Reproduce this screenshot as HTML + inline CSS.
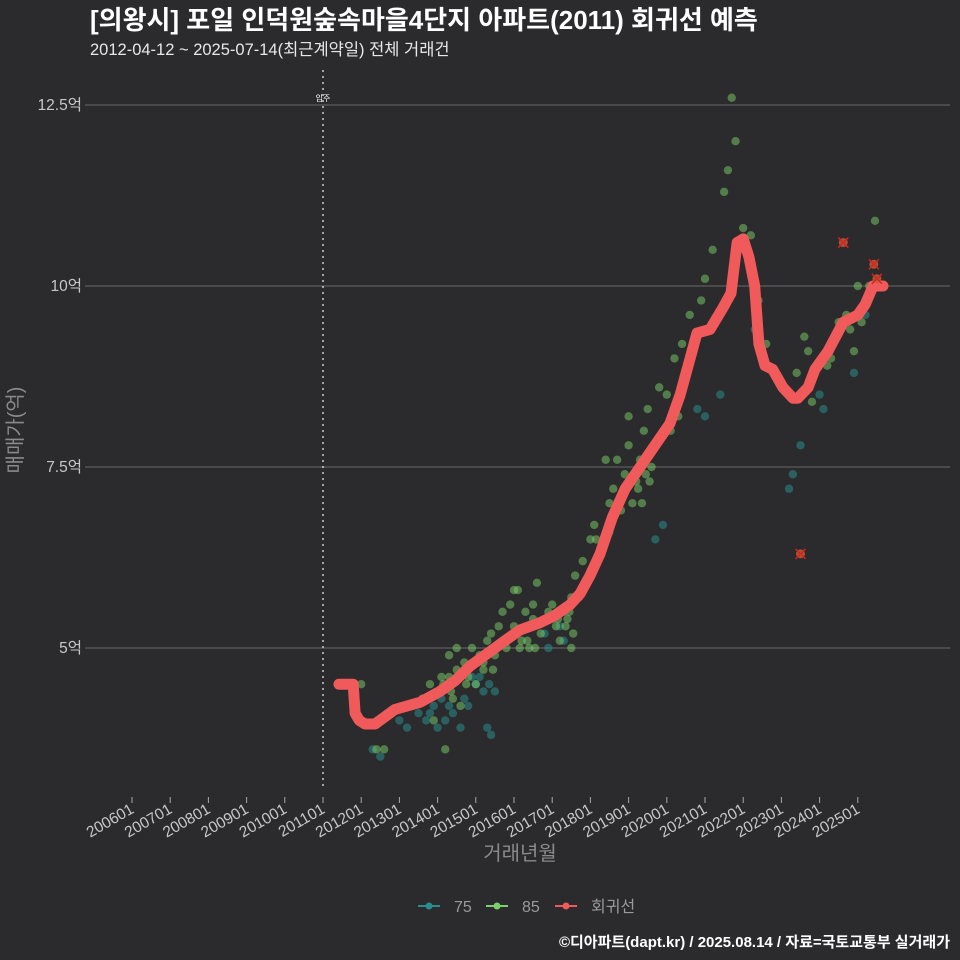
<!DOCTYPE html>
<html><head><meta charset="utf-8">
<style>
body{margin:0;background:#2b2a2c;}
svg{display:block;font-family:"Liberation Sans","Noto Sans CJK KR",sans-serif;}
</style></head>
<body>
<svg id="chart" width="960" height="960" viewBox="0 0 960 960">
<rect width="960" height="960" fill="#2b2a2c"/>
<text x="90" y="29" fill="#ffffff" font-size="26" font-weight="bold">[의왕시] 포일 인덕원숲속마을4단지 아파트(2011) 회귀선 예측</text>
<text x="90" y="55" fill="#e8e8e8" font-size="16.5">2012-04-12 ~ 2025-07-14(최근계약일) 전체 거래건</text>
<g id="grid"></g>
<g id="xaxis"></g>
<g id="marks"></g>
<text x="22" y="430" fill="#8a8a8a" font-size="20" text-anchor="middle" transform="rotate(-90 22 430)">매매가(억)</text>
<text x="520" y="860" fill="#8a8a8a" font-size="20" text-anchor="middle">거래년월</text>
<g>
<g><line x1="418" y1="906" x2="440" y2="906" stroke="#2a8c8c" stroke-width="2"/><circle cx="429" cy="906" r="3.5" fill="#2a8c8c"/><text x="454" y="912" fill="#9a9a9a" font-size="16">75</text></g>
<g><line x1="486" y1="906" x2="508" y2="906" stroke="#7ccf6a" stroke-width="2"/><circle cx="497" cy="906" r="3.5" fill="#7ccf6a"/><text x="522" y="912" fill="#9a9a9a" font-size="16">85</text></g>
<g><line x1="555" y1="906" x2="577" y2="906" stroke="#f05a5a" stroke-width="2"/><circle cx="566" cy="906" r="3.5" fill="#f05a5a"/><text x="591" y="912" fill="#9a9a9a" font-size="16">회귀선</text></g>
</g>
<text x="950" y="947" fill="#ffffff" font-size="15" font-weight="bold" text-anchor="end">©디아파트(dapt.kr) / 2025.08.14 / 자료=국토교통부 실거래가</text>
</svg>
<script>
const yTicks=[5,7.5,10,12.5];
const yTickLabels=["5억","7.5억","10억","12.5억"];
const xTickYears=[2006,2007,2008,2009,2010,2011,2012,2013,2014,2015,2016,2017,2018,2019,2020,2021,2022,2023,2024,2025];
const xTickLabels=["200601","200701","200801","200901","201001","201101","201201","201301","201401","201501","201601","201701","201801","201901","202001","202101","202201","202301","202401","202501"];
const moveInYear=2011;
const regYears=[2011.42,2011.79,2011.84,2011.95,2012.10,2012.36,2012.62,2012.88,2013.54,2014.06,2014.46,2014.85,2015.24,2015.76,2016.16,2016.68,2017.07,2017.47,2017.73,2017.99,2018.25,2018.57,2018.91,2019.30,2019.69,2020.08,2020.35,2020.61,2020.79,2021.13,2021.47,2021.68,2021.84,2022.0,2022.15,2022.30,2022.41,2022.57,2022.77,2023.04,2023.30,2023.43,2023.70,2023.88,2024.22,2024.62,2025.0,2025.2,2025.4,2025.66];
const regValues=[4.5,4.5,4.1,4.0,3.95,3.95,4.05,4.15,4.25,4.4,4.55,4.75,4.9,5.1,5.25,5.35,5.45,5.6,5.75,6.0,6.3,6.8,7.2,7.5,7.8,8.1,8.5,9.0,9.35,9.4,9.7,9.9,10.6,10.65,10.4,10.0,9.2,8.9,8.85,8.6,8.45,8.45,8.6,8.85,9.1,9.5,9.6,9.75,10.0,10.0];
const t75Years=[2012.3,2012.5,2013.0,2013.2,2013.5,2013.7,2013.9,2014.0,2014.2,2014.4,2014.6,2014.8,2015.0,2015.1,2015.2,2015.3,2015.4,2015.5,2016.8,2017.3,2018.5,2019.7,2019.9,2020.8,2021.0,2021.4,2022.3,2023.3,2023.2,2023.5,2024.0,2024.1,2024.9,2025.2,2014.1,2014.9,2017.0,2018.7,2013.8,2014.3,2014.7,2015.35,2016.9,2017.2];
const t75Values=[3.6,3.5,4.0,3.9,4.1,4.0,4.2,3.9,4.0,4.1,3.9,4.2,4.5,4.6,4.4,3.9,3.8,4.4,5.2,5.1,6.6,6.5,6.7,8.3,8.2,8.5,9.4,7.4,7.2,7.8,8.5,8.3,8.8,9.6,4.3,4.6,5.4,6.9,4.1,4.2,4.3,4.5,5.0,5.3];
const t85Years=[2012.0,2012.4,2012.6,2013.3,2013.6,2013.8,2014.0,2014.1,2014.2,2014.3,2014.4,2014.5,2014.6,2014.7,2014.8,2014.9,2015.0,2015.1,2015.2,2015.3,2015.4,2015.5,2015.6,2015.7,2015.8,2015.9,2016.0,2016.1,2016.2,2016.3,2016.4,2016.5,2016.6,2016.7,2016.9,2017.0,2017.1,2017.2,2017.3,2017.4,2017.5,2017.6,2017.7,2017.8,2018.0,2018.1,2018.3,2018.5,2018.6,2018.7,2018.8,2018.9,2019.0,2019.1,2019.2,2019.3,2019.4,2019.5,2019.6,2019.8,2020.0,2020.2,2020.4,2020.6,2020.7,2020.9,2021.0,2021.2,2021.5,2021.6,2021.7,2021.8,2022.0,2022.1,2022.2,2022.4,2022.6,2023.4,2023.6,2023.7,2023.8,2024.2,2024.3,2024.4,2024.5,2024.7,2024.8,2025.0,2025.1,2025.3,2025.45,2013.9,2014.5,2015.5,2016.5,2017.5,2018.4,2019.0,2015.2,2016.0,2014.3,2013.2,2014.15,2014.35,2014.55,2014.75,2015.05,2015.25,2015.45,2016.15,2016.35,2016.55,2017.15,2017.35,2017.45,2017.55,2018.05,2018.15,2019.25,2019.35,2019.45,2019.55,2020.1,2020.3,2024.6,2024.9,2025.2];
const t85Values=[4.5,3.6,3.6,4.2,4.3,4.5,4.4,4.6,3.6,4.6,4.3,4.7,4.2,4.8,4.6,5.0,4.5,4.9,4.7,5.1,5.2,5.0,5.3,5.5,5.0,5.6,5.3,5.8,5.1,5.5,5.0,5.4,5.9,5.2,5.5,5.6,5.3,5.1,5.5,5.4,5.7,6.0,5.7,6.2,6.5,6.7,6.4,7.0,7.2,7.6,6.9,7.4,7.8,7.0,7.3,7.6,8.0,8.3,7.5,8.6,8.5,9.0,9.2,9.6,9.1,9.8,10.1,10.5,11.3,11.6,12.6,12.0,10.8,10.5,10.7,9.8,9.2,8.8,9.3,9.1,8.4,8.9,9.0,9.3,9.5,9.6,9.4,10.0,9.5,10.0,10.9,4.0,5.0,4.9,5.6,5.0,7.6,8.2,4.8,5.8,4.9,4.2,4.5,4.4,4.6,4.5,4.8,4.9,4.7,5.0,5.1,5.0,5.4,5.3,5.5,5.2,6.1,6.5,7.2,7.0,7.4,7.3,8.0,8.2,9.5,9.1,9.8];
const outYears=[2024.62,2023.5,2025.42,2025.5];
const outValues=[10.6,6.3,10.3,10.1];

const NS="http://www.w3.org/2000/svg";
function xs(yr){return 132+(yr-2006)*38.2;}
function ys(v){return 648-(v-5)*72.4;}
function mk(tag,attrs,parent){const e=document.createElementNS(NS,tag);for(const k in attrs)e.setAttribute(k,attrs[k]);parent.appendChild(e);return e;}
const grid=document.getElementById('grid'),xa=document.getElementById('xaxis'),marks=document.getElementById('marks');
yTicks.forEach((v,i)=>{
  const l=mk('line',{x1:85,x2:950,y1:ys(v),y2:ys(v),stroke:'#6a6a6a','stroke-width':1},grid);
  
  
  const t=mk('text',{x:82,y:ys(v)+5,fill:'#c8c8c8','font-size':15.5,'text-anchor':'end'},grid);
  t.textContent=yTickLabels[i];
  
  
});
xTickYears.forEach((yr,i)=>{
  const x=xs(yr);
  const l=mk('line',{x1:x,x2:x,y1:797,y2:803,stroke:'#aaaaaa','stroke-width':1},xa);
  
  
  const t=mk('text',{x:x+3,y:812,fill:'#c8c8c8','font-size':15.5,'text-anchor':'end',transform:`rotate(-30 ${x+3} 812)`},xa);
  t.textContent=xTickLabels[i];
  
  
});
const mv=mk('line',{x1:xs(moveInYear),x2:xs(moveInYear),y1:70,y2:790,stroke:'#cccccc','stroke-width':1.5,'stroke-dasharray':'2,4'},grid);


const mvt=mk('text',{x:xs(moveInYear),y:101,fill:'#ffffff','font-size':8,'text-anchor':'middle'},grid);
mvt.textContent='입주';


t75Years.forEach((yr,i)=>{
  const c=mk('circle',{cx:xs(yr),cy:ys(t75Values[i]),r:4.2,fill:'#2a8c8c','fill-opacity':0.55},marks);
  
  
});
t85Years.forEach((yr,i)=>{
  const c=mk('circle',{cx:xs(yr),cy:ys(t85Values[i]),r:4.2,fill:'#7ccf6a','fill-opacity':0.5},marks);
  
  
});
const pts=regYears.map((yr,i)=>xs(yr).toFixed(1)+','+ys(regValues[i]).toFixed(1)).join(' ');
const pl=mk('polyline',{points:pts,fill:'none',stroke:'#f05a5a','stroke-width':11,'stroke-linejoin':'round','stroke-linecap':'round'},marks);


outYears.forEach((yr,i)=>{
  const x=xs(yr),y=ys(outValues[i]);
  const g=mk('g',{},marks);
  
  
  mk('circle',{cx:x,cy:y,r:4.5,fill:'#c0603a','fill-opacity':0.8},g);
  mk('path',{d:`M${x-5} ${y-5}L${x+5} ${y+5}M${x-5} ${y+5}L${x+5} ${y-5}`,stroke:'#e02020','stroke-width':1.5},g);
});
</script>
</body></html>
